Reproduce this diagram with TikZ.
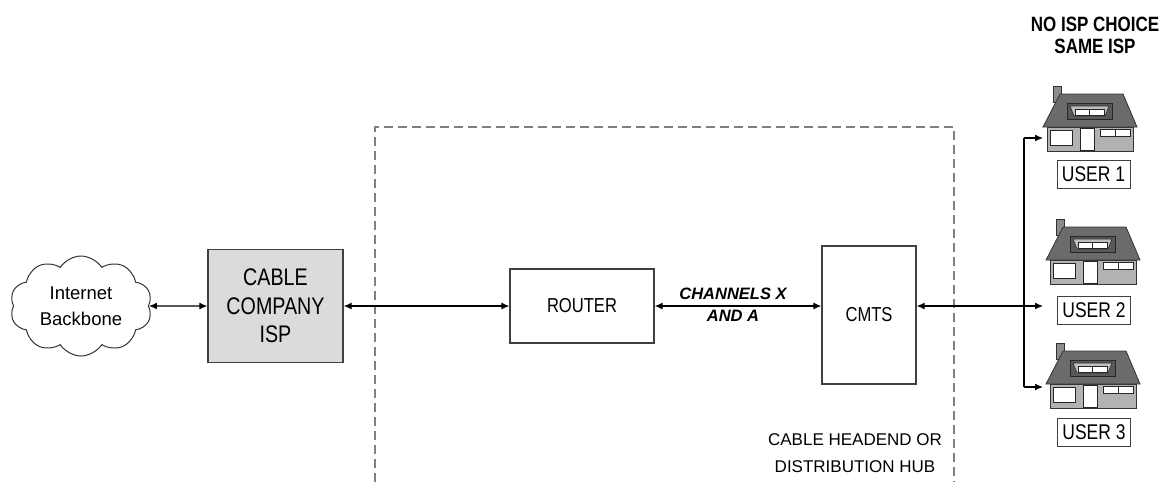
\documentclass[tikz,border=0pt]{standalone}
\usepackage{fontspec}
\setmainfont{Liberation Sans}
\newfontfamily\narrowfont[FakeStretch=0.82]{Liberation Sans}
\usetikzlibrary{
        arrows.meta,
        positioning,
        shapes.symbols
    }
\tikzset{>={Latex[length=8pt,width=7pt]}}
\tikzset{
    box/.style={draw=black!75,line width=1.3pt,inner sep=0pt,align=center,
        font=\narrowfont\fontsize{20.2}{24}\selectfont},
    user/.style={draw=black!75,line width=1pt,inner sep=0pt,minimum width=73pt,
        minimum height=28pt,font=\narrowfont\fontsize{21.3}{24}\selectfont},
    chan/.style={font=\fontsize{16.5}{20}\selectfont\bfseries\itshape},
    hub/.style={draw=black!50,line width=1.5pt,dash pattern=on 9pt off 5pt},
    house/.pic={
        \filldraw[fill=black!45,draw=black!80,line width=0.8pt] (10,-41) rectangle (18,-25);
        \filldraw[fill=black!30,draw=black!80,line width=0.8pt] (4,0) rectangle (90,24);
        \filldraw[fill=black!58,draw=black!80,line width=0.8pt] (0,0) -- (17,-33) -- (80,-33) -- (94,0) -- cycle;
        \filldraw[fill=black!65,draw=black!85,line width=0.8pt] (24,-24) rectangle (69,-8);
        \filldraw[fill=black!25,draw=black!85,line width=0.6pt] (27,-21) -- (66,-21) -- (62,-11) -- (31,-11) -- cycle;
        \filldraw[fill=white,draw=black!85,line width=0.6pt] (32,-18) rectangle (61,-12);
        \draw[black!85,line width=0.6pt] (46.5,-18) -- (46.5,-12);
        \filldraw[fill=white,draw=black!85,line width=0.8pt] (7,3) rectangle (29,18);
        \filldraw[fill=white,draw=black!85,line width=0.8pt] (37,1) rectangle (51,23);
        \filldraw[fill=white,draw=black!85,line width=0.8pt] (57,2) rectangle (87,9);
        \draw[black!85,line width=0.8pt] (72,2) -- (72,9);
    }
}

\begin{document}
\begin{tikzpicture}[x=1pt,y=-1pt,line width=1.2pt]
    \useasboundingbox (0,0) rectangle (1166,482);
    % headend
    \draw[hub] (375,482) |- (954,127) -- (954,482);
    \node[cloud,cloud puffs=10,cloud puff arc=115,cloud ignores aspect,draw=black!80,line width=1pt,
        minimum width=142pt,minimum height=100pt,inner sep=0pt,align=center,
        font=\fontsize{18.5}{26}\selectfont] (inet) at (81,306) {Internet\\Backbone};
    \node[box,fill=black!14,minimum width=135pt,minimum height=113pt,
        font=\narrowfont\fontsize{24}{28.5}\selectfont] (isp) at (275.5,306) {CABLE\\COMPANY\\ISP};
    \node[box,minimum width=144pt,minimum height=74pt] (r) at (582,306) {ROUTER};
    \node[box,minimum width=94pt,minimum height=138pt] (cmts) at (869,315) {CMTS};
    \node[align=center,font=\fontsize{17}{27}\selectfont] (hl) at (855,453) {CABLE HEADEND OR\\DISTRIBUTION HUB};
    % users
    \node[align=center,font=\narrowfont\fontsize{20.7}{22}\selectfont\bfseries] (t) at (1095,35) {NO ISP CHOICE\\SAME ISP};
    \pic at (1043,127) {house};
    \pic at (1046,260) {house};
    \pic at (1046,384) {house};
    \node[user] (u1) at (1093.5,174) {USER 1};
    \node[user] (u2) at (1094,310) {USER 2};
    \node[user] (u3) at (1094,432) {USER 3};
    \coordinate (b1) at (1024,138);
    \coordinate (b2) at (1024,306);
    \coordinate (b3) at (1024,387);
    \coordinate (e1) at (1043,138);
    \coordinate (e2) at (1043,306);
    \coordinate (e3) at (1043,387);
    \draw[<->] (inet.east) -- (isp.west);
    \draw[<->] (isp.east) -- (r.west);
    \draw[<->] (r.east) -- node[above=2pt,pos=0.47,chan] {CHANNELS X}
        node[below,pos=0.47,chan] {AND A} (r.east -| cmts.west);
    \draw[<-] (cmts.east |- r) -- (b2);
    \draw (b1) -- (b3);
    \draw[->] (b1) -- (e1);
    \draw[->] (b2) -- (e2);
    \draw[->] (b3) -- (e3);
\end{tikzpicture}
\end{document}
